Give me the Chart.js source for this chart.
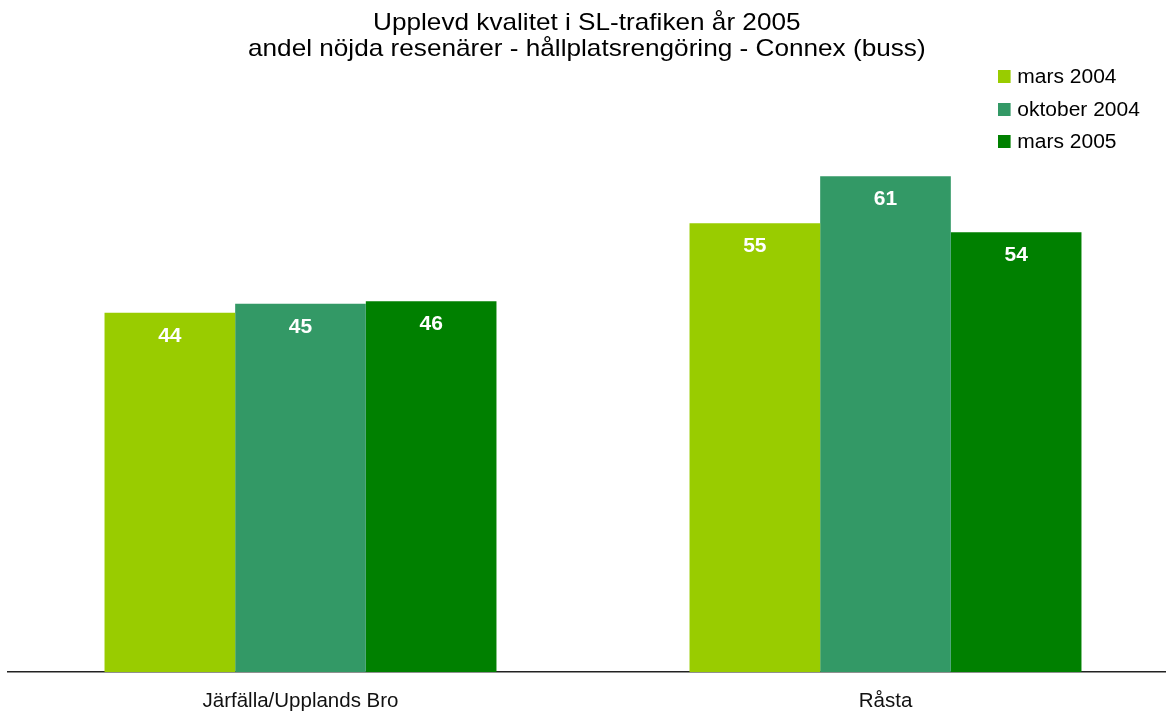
<!DOCTYPE html>
<html>
<head>
<meta charset="utf-8">
<script src="https://cdn.jsdelivr.net/npm/chart.js@4.4.1/dist/chart.umd.min.js"></script>
<style>
  html, body { margin: 0; padding: 0; background: #fff; overflow: hidden; width: 1166px; height: 715px; }
  #wrap { position: relative; width: 1166px; height: 715px; overflow: hidden; }
  #c { position: absolute; left: 0; top: 0; }
  #title { position: absolute; left: 0; top: 9px; width: 1174px; text-align: center;
    font-family: Arial, "Liberation Sans", sans-serif; font-size: 24px; line-height: 26px; color: #000;
    transform: scaleX(1.09); transform-origin: 589px 0; }
  #legend { position: absolute; left: 998px; top: 60px; font-family: Arial, "Liberation Sans", sans-serif;
    font-size: 20px; color: #000; transform: scaleX(1.05); transform-origin: 0 0; }
  .li { height: 32.5px; line-height: 32.5px; white-space: nowrap; }
  .sw { display: inline-block; width: 12.4px; height: 13px; margin-right: 6px; vertical-align: baseline; }
</style>
</head>
<body>
<div id="wrap">
  <canvas id="c" width="1178" height="715"></canvas>
  <div id="title"></div>
  <div id="legend"></div>
</div>
<script>
const titleLines = ["Upplevd kvalitet i SL-trafiken år 2005", "andel nöjda resenärer - hållplatsrengöring - Connex (buss)"];
const categories = ["Järfälla/Upplands Bro", "Råsta"];
const seriesNames = ["mars 2004", "oktober 2004", "mars 2005"];
const seriesColors = ["#99CC00", "#339966", "#008000"];
const mars2004 = [44.2, 55.2];
const oktober2004 = [45.3, 61.0];
const mars2005 = [45.6, 54.1];
const seriesValues = [mars2004, oktober2004, mars2005];

document.getElementById('title').innerHTML = titleLines.join('<br>');
document.getElementById('legend').innerHTML = seriesNames.map((n, i) =>
  '<div class="li"><span class="sw" style="background:' + seriesColors[i] + '"></span>' + n + '</div>').join('');

const valueLabels = {
  id: 'valueLabels',
  afterDatasetsDraw(chart) {
    const ctx = chart.ctx;
    ctx.save();
    ctx.font = 'bold 21px Arial, "Liberation Sans", sans-serif';
    ctx.fillStyle = '#ffffff';
    ctx.textAlign = 'center';
    ctx.textBaseline = 'middle';
    chart.data.datasets.forEach((ds, di) => {
      chart.getDatasetMeta(di).data.forEach((bar, i) => {
        ctx.fillText(String(Math.round(ds.data[i])), bar.x, bar.y + 23);
      });
    });
    ctx.restore();
  }
};

new Chart(document.getElementById('c'), {
  type: 'bar',
  data: {
    labels: categories,
    datasets: seriesNames.map((n, i) => ({
      label: n,
      data: seriesValues[i],
      backgroundColor: seriesColors[i],
      borderWidth: 0,
      categoryPercentage: 0.67,
      barPercentage: 1.0
    }))
  },
  options: {
    responsive: false,
    animation: false,
    events: [],
    layout: { padding: { top: 103, left: 8, right: 0, bottom: 0 } },
    plugins: { legend: { display: false }, title: { display: false }, tooltip: { enabled: false } },
    scales: {
      y: { display: false, min: 0, max: 70 },
      x: {
        grid: { display: false, drawTicks: false },
        border: { display: true, color: '#222', width: 1.5 },
        ticks: { color: '#111', padding: 17, font: { family: 'Arial, "Liberation Sans", sans-serif', size: 20.5 } },
        afterFit(scale) { scale.height = 43; }
      }
    }
  },
  plugins: [valueLabels]
});
</script>
</body>
</html>
